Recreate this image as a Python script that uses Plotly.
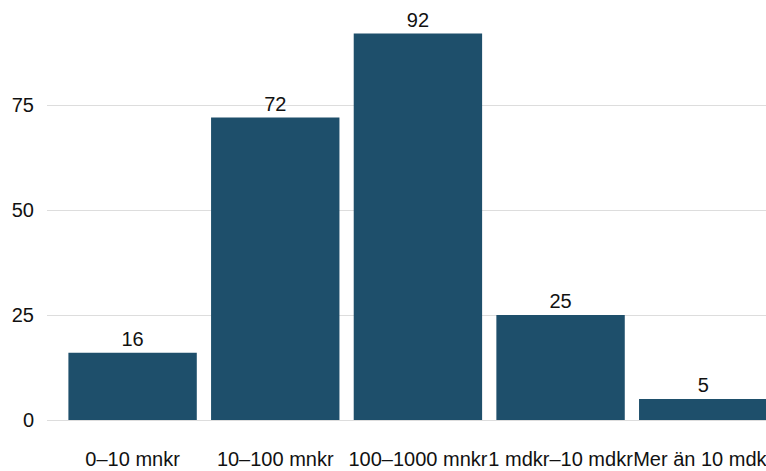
import plotly.graph_objects as go

categories = ["0–10 mnkr", "10–100 mnkr", "100–1000 mnkr", "1 mdkr–10 mdkr", "Mer än 10 mdkr"]
values = [16, 72, 92, 25, 5]
y_ticks = [0, 25, 50, 75]

fig = go.Figure(go.Bar(
    x=categories, y=values,
    text=[str(v) for v in values], textposition="outside",
    textfont=dict(size=20, color="#111111"),
    marker=dict(color="#1e4f6b", line=dict(width=0)),
    cliponaxis=False,
))
fig.update_layout(
    width=766, height=471,
    margin=dict(l=47, r=0, t=0, b=51, autoexpand=False),
    paper_bgcolor="white", plot_bgcolor="white",
    font=dict(family="Liberation Sans, Arial, sans-serif", size=20, color="#111111"),
    bargap=0.1, showlegend=False,
)
fig.update_xaxes(range=[-0.6, 4.44], showgrid=False, zeroline=False, showline=False,
                 ticks="", tickangle=0, automargin=False,
                 ticklabelstandoff=25, tickfont=dict(size=20))
fig.update_yaxes(range=[0, 100], tickvals=y_ticks, showgrid=True, gridcolor="#dddddd",
                 gridwidth=1, zeroline=True, zerolinecolor="#dddddd", zerolinewidth=1,
                 showline=False, ticks="", automargin=False,
                 ticklabelstandoff=12, tickfont=dict(size=20))
fig.write_html(
    "out.html",
    config={"displayModeBar": False},
    post_script="document.body.style.margin='0';document.body.style.overflow='hidden';",
)
